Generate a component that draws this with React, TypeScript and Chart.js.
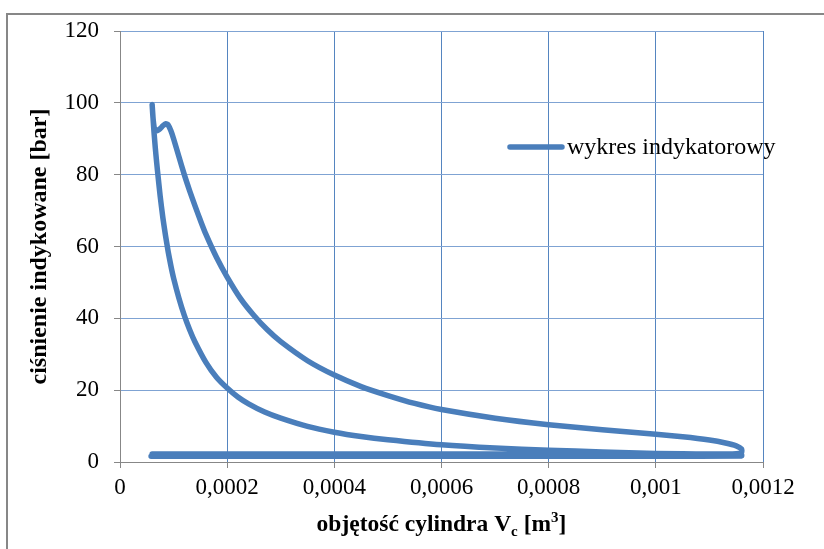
import React, { useEffect, useRef } from "react";
import { Chart, registerables } from "chart.js";

Chart.register(...registerables);

// Indicator diagram: cylinder volume [m3] vs indicated pressure [bar], traced in cycle order
const volume: number[] = [
  // intake
  0.000058, 0.0002, 0.0004, 0.0006, 0.0008, 0.001, 0.00116,
  // compression
  0.00116, 0.0011, 0.001, 0.0009, 0.0008, 0.0007, 0.0006, 0.0005, 0.00045, 0.0004,
  0.00035, 0.0003, 0.00027, 0.00024, 0.00022, 0.0002, 0.00018, 0.00016, 0.00014,
  0.00013, 0.00012, 0.00011, 0.0001, 0.000095, 0.00009, 0.000085, 0.00008, 0.000075,
  0.00007, 0.000067, 0.000065, 0.000063, 0.00006,
  // combustion
  0.0000615, 0.000064, 0.0000665, 0.00007, 0.000075, 0.00008, 0.0000855, 0.00009,
  0.000095,
  // expansion
  0.0001, 0.00011, 0.00012, 0.00013, 0.00014, 0.00015, 0.00016, 0.00018, 0.0002,
  0.000225, 0.00025, 0.000275, 0.0003, 0.00035, 0.0004, 0.00045, 0.0005, 0.00055,
  0.0006, 0.0007, 0.0008, 0.0009, 0.001, 0.00105, 0.0011, 0.00113, 0.00115, 0.00116,
  0.00116, 0.00115,
  // exhaust
  0.0011, 0.0009, 0.0007, 0.0005, 0.0003, 0.00015, 0.00006,
];

const pressure: number[] = [
  // intake
  1.6, 1.6, 1.6, 1.6, 1.6, 1.6, 1.7,
  // compression
  2.0, 2.15, 2.4, 2.8, 3.3, 3.9, 4.8, 6.2, 7.1, 8.3,
  9.9, 12.2, 13.9, 16.2, 18.1, 20.6, 23.6, 27.8, 33.4,
  36.8, 40.8, 45.6, 51.2, 54.6, 58.5, 63.0, 68.0, 74.0,
  81.0, 85.6, 89.0, 92.8, 99.5,
  // combustion
  96.0, 93.0, 92.2, 92.3, 92.8, 93.6, 94.2, 93.8,
  92.2,
  // expansion
  90.0, 85.0, 80.0, 75.5, 71.3, 67.3, 63.5, 57.0, 51.5,
  45.5, 40.8, 36.8, 33.5, 28.2, 24.2, 21.0, 18.5, 16.3,
  14.6, 12.2, 10.4, 9.0, 7.7, 7.0, 6.1, 5.3, 4.5, 3.6,
  2.7, 2.3,
  // exhaust
  2.2, 2.2, 2.2, 2.2, 2.2, 2.2, 2.2,
];

const xTicks: number[] = [0, 0.0002, 0.0004, 0.0006, 0.0008, 0.001, 0.0012];
const yTicks: number[] = [0, 20, 40, 60, 80, 100, 120];

const seriesLabel = "wykres indykatorowy";
const yTitle = "ciśnienie indykowane [bar]";
const LINE_COLOR = "#4A7EBB";
const SERIF = "'Liberation Serif', 'Times New Roman', serif";

const decorPlugin = {
  id: "decor",
  beforeDraw(chart: any) {
    const ctx = chart.ctx;
    ctx.save();
    ctx.strokeStyle = "#878787";
    ctx.lineWidth = 2;
    ctx.strokeRect(7, 14, 1000, 1000);
    ctx.restore();
  },
  afterDraw(chart: any) {
    const ctx = chart.ctx;
    const a = chart.chartArea;
    const w = a.right - a.left;
    const h = a.bottom - a.top;
    ctx.save();
    // legend
    const lx = a.left + w * 0.6065;
    const ly = a.top + h * 0.269;
    ctx.strokeStyle = LINE_COLOR;
    ctx.lineWidth = 5.5;
    ctx.lineCap = "round";
    ctx.beginPath();
    ctx.moveTo(lx, ly);
    ctx.lineTo(lx + 52, ly);
    ctx.stroke();
    ctx.fillStyle = "#000";
    ctx.font = `24px ${SERIF}`;
    ctx.textBaseline = "middle";
    ctx.textAlign = "left";
    ctx.fillText(seriesLabel, lx + 57, ly + 1);

    // y title
    ctx.save();
    ctx.translate(40, (a.top + a.bottom) / 2);
    ctx.rotate(-Math.PI / 2);
    ctx.font = `bold 24px ${SERIF}`;
    ctx.textAlign = "center";
    ctx.textBaseline = "middle";
    ctx.fillText(yTitle, 0, 0);
    ctx.restore();

    // x title with subscript and superscript
    const big = `bold 23.5px ${SERIF}`;
    const small = `bold 15px ${SERIF}`;
    const segs: [string, string, number][] = [
      ["objętość cylindra V", big, 0],
      ["c", small, 5],
      [" [m", big, 0],
      ["3", small, -9],
      ["]", big, 0],
    ];
    let total = 0;
    for (const [t, f] of segs) {
      ctx.font = f;
      total += ctx.measureText(t).width;
    }
    let x = (a.left + a.right) / 2 - total / 2;
    const base = a.bottom + 69;
    ctx.textAlign = "left";
    ctx.textBaseline = "alphabetic";
    for (const [t, f, dy] of segs) {
      ctx.font = f;
      ctx.fillText(t, x, base + dy);
      x += ctx.measureText(t).width;
    }
    ctx.restore();
  },
};

export default function App() {
  const ref = useRef<HTMLCanvasElement | null>(null);
  useEffect(() => {
    if (!ref.current) return;
    const data = volume.map((v, i) => ({ x: v, y: pressure[i] }));
    const chart = new Chart(ref.current, {
      type: "scatter",
      data: {
        datasets: [
          {
            label: seriesLabel,
            data,
            showLine: true,
            borderColor: LINE_COLOR,
            backgroundColor: LINE_COLOR,
            borderWidth: 5.5,
            pointRadius: 0,
            tension: 0.2,
            borderCapStyle: "round",
            borderJoinStyle: "round",
          } as any,
        ],
      },
      options: {
        responsive: false,
        animation: false,
        layout: { padding: { left: 0, right: 61, top: 31, bottom: 0 } },
        plugins: { legend: { display: false }, tooltip: { enabled: false } },
        scales: {
          x: {
            type: "linear",
            min: 0,
            max: 0.0012,
            afterFit: (s: any) => {
              s.height = 87;
            },
            afterBuildTicks: (s: any) => {
              s.ticks = xTicks.map((v) => ({ value: v }));
            },
            ticks: {
              font: { family: SERIF, size: 23 },
              color: "#000",
              padding: 6,
              maxRotation: 0,
              callback: (v: any) =>
                Number(Number(v).toFixed(4)).toString().replace(".", ","),
            },
            grid: {
              color: "#5585C0",
              lineWidth: 1,
              tickLength: 6,
              tickColor: "#878787",
            },
            border: { color: "#878787", width: 1 },
          },
          y: {
            type: "linear",
            min: 0,
            max: 120,
            afterFit: (s: any) => {
              s.width = 120;
            },
            afterBuildTicks: (s: any) => {
              s.ticks = yTicks.map((v) => ({ value: v }));
            },
            ticks: {
              font: { family: SERIF, size: 23 },
              color: "#000",
              padding: 15,
            },
            grid: {
              color: "#7FA3D3",
              lineWidth: 1,
              tickLength: 6,
              tickColor: "#878787",
            },
            border: { color: "#878787", width: 1 },
          },
        },
      },
      plugins: [decorPlugin],
    });
    return () => chart.destroy();
  }, []);
  return (
    <div style={{ position: "fixed", left: 0, top: 0, width: 824, height: 549, background: "#fff" }}>
      <canvas ref={ref} width={824} height={549} style={{ display: "block" }} />
    </div>
  );
}
